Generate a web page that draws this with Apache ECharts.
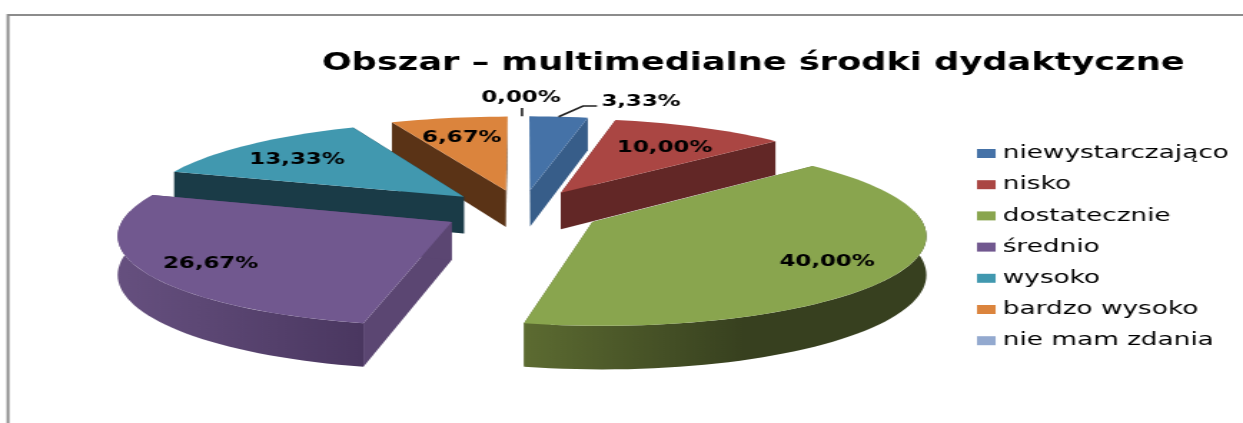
<!DOCTYPE html>
<html>
<head>
<meta charset="utf-8">
<style>
html,body{margin:0;padding:0;background:#fff;overflow:hidden;width:1243px;height:423px}
#c{position:absolute;left:0;top:0;width:869px;height:423px;transform:scaleX(1.4304);transform-origin:0 0;filter:blur(0.45px)}
</style>
<script src="https://cdn.jsdelivr.net/npm/echarts@6/dist/echarts.min.js"></script>
</head>
<body>
<div id="c"></div>
<script>
const chartTitle = 'Obszar – multimedialne środki dydaktyczne';
const categories = ['niewystarczająco','nisko','dostatecznie','średnio','wysoko','bardzo wysoko','nie mam zdania'];
const values = [3.33,10.00,40.00,26.67,13.33,6.67,0.00];
const topColors = ['#4572A7','#AA4643','#89A54E','#71588F','#4198AF','#DB843D','#93A9CF'];
const sideColors = ['#375D89','#622726','#5C6B31','#5B4672','#1A3B47','#5A3316','#93A9CF'];
const wallEndColors = ['#2F4F75','#4F1F1E','#37401F','#4A3760','#1A3B47','#4A2A12','#93A9CF'];
const labelRadius = [1, 0.97, 1.015, 1.035, 1.01, 1, 1];

// chart is laid out in unstretched space; the container is stretched by S
const S = 1243 / 869;
const CX = 522, HORIZON = -492, YSCALE = 703, VIEW_DIST = 8;
const RX = 325, EXPLODE = 0.246, DEPTH = 37.5;
const WALL_FROM = 83, WALL_TO = 277;

function project(gx, gy, h) {
  const s = 1 / (1 - gy / VIEW_DIST);
  return [(CX + RX * gx * s) / S, HORIZON + YSCALE * s + (h || 0) * s];
}
const polar = (deg, r) => [Math.sin(deg * Math.PI / 180) * r, -Math.cos(deg * Math.PI / 180) * r];
const fmt = v => v.toFixed(2).replace('.', ',') + '%';

const total = values.reduce((a, b) => a + b, 0);
let acc = 0;
const slices = values.map(v => {
  const start = acc / total * 360; acc += v;
  return { start, end: acc / total * 360, mid: (start + v / total * 180) };
});

// labels that sit outside their slice, with a leader line
const callouts = {
  0: { label: [641, 102], elbow: [[583, 106], [597, 106]] },
  6: { label: [521, 98], elbow: [[522, 108]] }
};

function sweep(a0, a1) {
  const out = [], n = Math.max(4, Math.ceil((a1 - a0) / 2));
  for (let k = 0; k <= n; k++) out.push(a0 + (a1 - a0) * k / n);
  return out;
}

function renderSlice(i) {
  const sl = slices[i], v = values[i];
  const off = polar(sl.mid, EXPLODE);
  const at = (deg, r, h) => { const p = polar(deg, r); return project(off[0] + p[0], off[1] + p[1], h); };
  const children = [];
  if (v > 0) {
    const arc = sweep(sl.start, sl.end);
    const topPts = [at(0, 0, 0)].concat(arc.map(a => at(a, 1, 0)));
    [sl.start, sl.end].forEach(a => {
      children.push({ type: 'polygon', shape: { points: [at(0, 0, 0), at(a, 1, 0), at(a, 1, DEPTH), at(0, 0, DEPTH)] },
        style: { fill: sideColors[i] }, z2: 1 });
    });
    const w0 = Math.max(sl.start, WALL_FROM), w1 = Math.min(sl.end, WALL_TO);
    if (w1 > w0) {
      const w = sweep(w0, w1);
      const wallPts = w.map(a => at(a, 1, 0)).concat(w.slice().reverse().map(a => at(a, 1, DEPTH)));
      // shade runs from the lit left of the front wall to the dark right
      const stops = i === 3
        ? [{ offset: 0, color: '#66507F' }, { offset: 1, color: wallEndColors[i] }]
        : [{ offset: 0, color: sideColors[i] }, { offset: 0.55, color: wallEndColors[i] }, { offset: 1, color: wallEndColors[i] }];
      children.push({ type: 'polygon', shape: { points: wallPts }, z2: 2,
        style: { fill: new echarts.graphic.LinearGradient(0, 0, 1, 0, stops) } });
    }
    children.push({ type: 'polygon', shape: { points: topPts }, z2: 3, style: { fill: topColors[i] } });
  }
  const c = callouts[i];
  let lab;
  if (c) {
    const p = polar(sl.mid, EXPLODE + 1);
    const start = project(p[0], p[1], 0);
    const pts = [start].concat(c.elbow.map(e => [e[0] / S, e[1]]));
    children.push({ type: 'polyline', shape: { points: pts }, z2: 4, style: { stroke: '#222', lineWidth: 1.6, fill: null } });
    lab = [c.label[0] / S, c.label[1]];
  } else {
    const p = polar(sl.mid, labelRadius[i]);
    lab = project(p[0], p[1], 3.5);
  }
  children.push({ type: 'text', z2: 5, x: lab[0], y: lab[1],
    style: { text: fmt(v), align: 'center', verticalAlign: 'middle', fill: '#000',
      font: 'bold 16px "DejaVu Sans"' } });
  return { type: 'group', children };
}

const chart = echarts.init(document.getElementById('c'), null, { renderer: 'canvas' });
chart.setOption({
  animation: false,
  backgroundColor: '#fff',
  title: { text: chartTitle, left: 746 / S, top: 46, textAlign: 'center',
    textStyle: { fontFamily: '"DejaVu Sans"', fontWeight: 'bold', fontSize: 24.6, color: '#000' } },
  legend: { orient: 'vertical', left: 977 / S, top: 144.5, padding: 0, data: categories, icon: 'rect',
    itemWidth: 13, itemHeight: 9, itemGap: 13.2, selectedMode: false,
    textStyle: { fontFamily: '"DejaVu Sans"', fontSize: 18.4, color: '#000' } },
  graphic: [{ type: 'polyline', silent: true,
    shape: { points: [[869, 15], [8 / S, 15], [8 / S, 423]] },
    style: { stroke: '#8c8c8c', lineWidth: 2, fill: null } }],
  series: categories.map((name, i) => ({
    type: 'custom', name, coordinateSystem: 'none',
    z: 20 + Math.round(-Math.cos(slices[i].mid * Math.PI / 180) * 10),
    itemStyle: { color: topColors[i] },
    data: [[values[i]]],
    silent: true,
    renderItem: () => renderSlice(i)
  }))
});
</script>
</body>
</html>
